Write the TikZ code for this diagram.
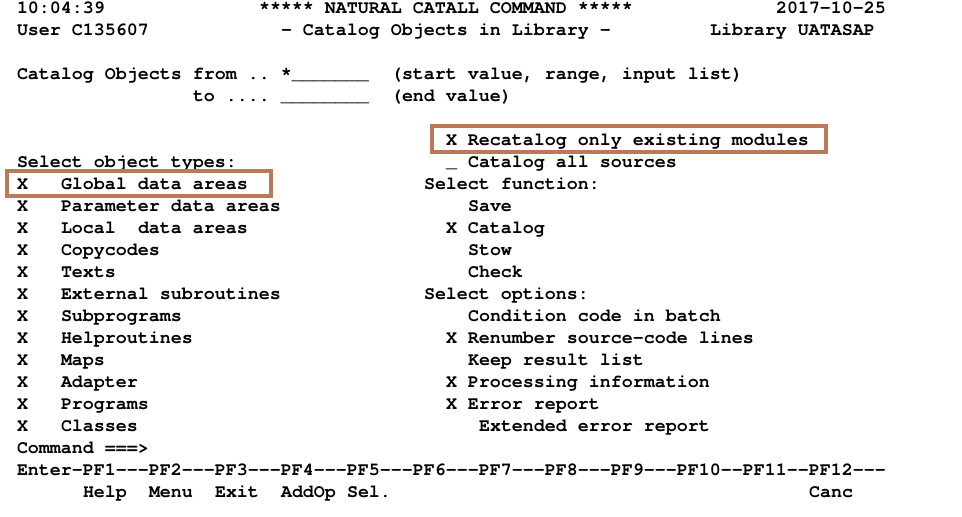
\documentclass[tikz,border=0pt]{standalone}
\usepackage{fontspec}
\setmonofont{TeX Gyre Cursor}
\definecolor{boxbrown}{HTML}{B97A57}
\newcommand\tline[3]{\node[term] (t#1-#2) at ({17+11*#2},{13+22*#1}) {#3};}
\begin{document}
\begin{tikzpicture}[x=1pt,y=-1pt,
  term/.style={anchor=base west,inner sep=0pt,outer sep=0pt,font=\fontsize{18.33}{20}\ttfamily\bfseries},
  hilite/.style={draw=boxbrown,line width=4pt}]
\useasboundingbox[fill=white] (0,0) rectangle (962,517);
\tline{0}{0}{10:04:39}
\tline{0}{22}{***** NATURAL CATALL COMMAND *****}
\tline{0}{69}{2017-10-25}
\tline{1}{0}{User C135607}
\tline{1}{24}{- Catalog Objects in Library -}
\tline{1}{63}{Library UATASAP}
\tline{3}{0}{Catalog Objects from .. *\_\_\_\_\_\_\_}
\tline{3}{34}{(start value, range, input list)}
\tline{4}{16}{to .... \_\_\_\_\_\_\_\_}
\tline{4}{34}{(end value)}
\tline{6}{39}{X Recatalog only existing modules}
\tline{7}{0}{Select object types:}
\tline{7}{39}{\_}
\tline{7}{41}{Catalog all sources}
\tline{8}{0}{X}\tline{8}{4}{Global data areas}
\tline{8}{37}{Select function:}
\tline{9}{0}{X}\tline{9}{4}{Parameter data areas}
\tline{9}{41}{Save}
\tline{10}{0}{X}\tline{10}{4}{Local}\tline{10}{11}{data areas}
\tline{10}{39}{X Catalog}
\tline{11}{0}{X}\tline{11}{4}{Copycodes}
\tline{11}{41}{Stow}
\tline{12}{0}{X}\tline{12}{4}{Texts}
\tline{12}{41}{Check}
\tline{13}{0}{X}\tline{13}{4}{External subroutines}
\tline{13}{37}{Select options:}
\tline{14}{0}{X}\tline{14}{4}{Subprograms}
\tline{14}{41}{Condition code in batch}
\tline{15}{0}{X}\tline{15}{4}{Helproutines}
\tline{15}{39}{X Renumber source-code lines}
\tline{16}{0}{X}\tline{16}{4}{Maps}
\tline{16}{41}{Keep result list}
\tline{17}{0}{X}\tline{17}{4}{Adapter}
\tline{17}{39}{X Processing information}
\tline{18}{0}{X}\tline{18}{4}{Programs}
\tline{18}{39}{X Error report}
\tline{19}{0}{X}\tline{19}{4}{Classes}
\tline{19}{42}{Extended error report}
\tline{20}{0}{Command ===>}
\tline{21}{0}{Enter-PF1---PF2---PF3---PF4---PF5---PF6---PF7---PF8---PF9---PF10--PF11--PF12---}
\tline{22}{6}{Help}
\tline{22}{12}{Menu}
\tline{22}{18}{Exit}
\tline{22}{24}{AddOp}
\tline{22}{30}{Sel.}
\tline{22}{72}{Canc}
\draw[hilite] (432,126) rectangle (826,152);
\draw[hilite] (7,171) rectangle (271,196);
\end{tikzpicture}
\end{document}
